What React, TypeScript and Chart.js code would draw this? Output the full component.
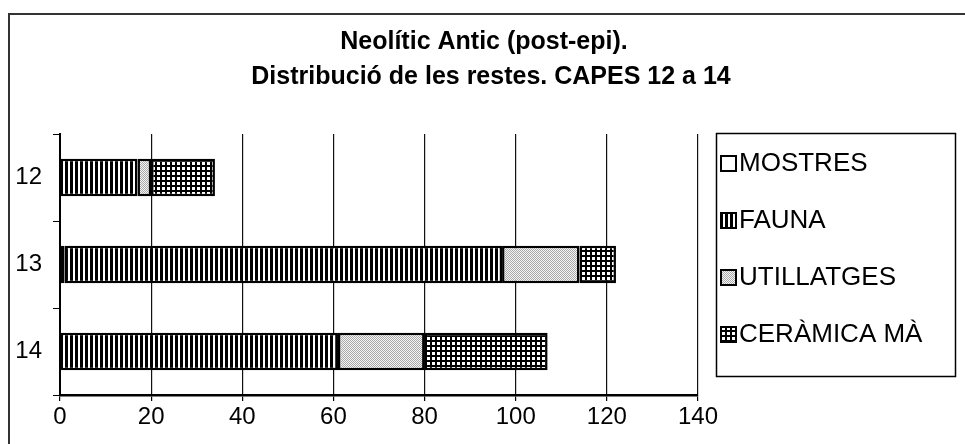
import React, { useEffect, useRef } from "react";
import { Chart, registerables } from "chart.js";

Chart.register(...registerables);

const categories = ["12", "13", "14"];
const seriesNames = ["MOSTRES", "FAUNA", "UTILLATGES", "CERÀMICA MÀ"];
const mostres = [0, 1, 0];
const fauna = [17, 96, 61];
const utillatges = [3, 17, 19];
const ceramica = [14, 8, 27];
const xTicks = [0, 20, 40, 60, 80, 100, 120, 140];
const titleLines = ["Neolític Antic (post-epi).", "Distribució de les restes. CAPES 12 a 14"];

function makeTile(w: number, h: number, draw: (c: CanvasRenderingContext2D) => void): CanvasPattern | string {
  const cv = document.createElement("canvas");
  cv.width = w;
  cv.height = h;
  const c = cv.getContext("2d");
  if (!c) return "#ccc";
  draw(c);
  const p = c.createPattern(cv, "repeat");
  return p || "#ccc";
}

export default function App() {
  const ref = useRef<HTMLCanvasElement | null>(null);

  useEffect(() => {
    document.body.style.margin = "0";
    const canvas = ref.current;
    if (!canvas) return;

    const faunaPat = makeTile(5, 5, (c) => {
      c.fillStyle = "#fff";
      c.fillRect(0, 0, 5, 5);
      c.fillStyle = "#000";
      c.fillRect(0, 0, 3, 5);
    });
    const utilPat = makeTile(2, 2, (c) => {
      c.fillStyle = "#f4f4f4";
      c.fillRect(0, 0, 2, 2);
      c.fillStyle = "#aaaaaa";
      c.fillRect(0, 0, 1, 1);
      c.fillRect(1, 1, 1, 1);
    });
    const ceramPat = makeTile(5, 5, (c) => {
      c.fillStyle = "#000";
      c.fillRect(0, 0, 5, 5);
      c.fillStyle = "#fff";
      c.fillRect(2, 2, 3, 3);
    });
    const fills: (string | CanvasPattern)[] = ["#ffffff", faunaPat, utilPat, ceramPat];
    const values = [mostres, fauna, utillatges, ceramica];

    const decor = {
      id: "decor",
      beforeDraw(chart: any) {
        const c = chart.ctx;
        c.save();
        c.fillStyle = "#fff";
        c.fillRect(0, 0, chart.width, chart.height);
        c.restore();
      },
      afterDraw(chart: any) {
        const c = chart.ctx;
        c.save();
        // frame
        c.strokeStyle = "#333";
        c.lineWidth = 2;
        c.beginPath();
        c.moveTo(9, 444);
        c.lineTo(9, 14);
        c.lineTo(965, 14);
        c.stroke();
        // title
        c.fillStyle = "#000";
        c.font = "bold 25px 'Liberation Sans', Arial, sans-serif";
        c.textAlign = "center";
        c.textBaseline = "middle";
        c.fillText(titleLines[0], 484, 42);
        c.fillText(titleLines[1], 491, 77);
        // legend
        c.lineWidth = 1.5;
        c.strokeStyle = "#000";
        c.strokeRect(716.5, 133.5, 239, 243);
        c.font = "26px 'Liberation Sans', Arial, sans-serif";
        c.textAlign = "left";
        const ys = [163, 220, 277, 334];
        chart.data.datasets.forEach((ds: any, i: number) => {
          const y = ys[i];
          c.fillStyle = ds.backgroundColor;
          c.fillRect(721, y - 7, 15, 15);
          c.lineWidth = 2;
          c.strokeStyle = "#000";
          c.strokeRect(721, y - 7, 15, 15);
          c.fillStyle = "#000";
          c.fillText(ds.label, 739, y + 1);
        });
        c.restore();
      },
    };

    const chart = new Chart(canvas, {
      type: "bar",
      data: {
        labels: categories,
        datasets: seriesNames.map((name, i) => ({
          label: name,
          data: values[i],
          backgroundColor: fills[i] as any,
          borderColor: "#000",
          borderWidth: 2.5,
          borderSkipped: false,
          categoryPercentage: 1,
          barPercentage: 0.43,
        })),
      },
      options: {
        indexAxis: "y",
        responsive: false,
        animation: false,
        layout: { padding: { left: 0, top: 134, right: 267, bottom: 0 } },
        plugins: {
          legend: { display: false },
          title: { display: false },
          tooltip: { enabled: false },
        },
        scales: {
          x: {
            stacked: true,
            min: 0,
            max: 140,
            afterBuildTicks(scale: any) {
              scale.ticks = xTicks.map((v) => ({ value: v }));
            },
            afterFit(scale: any) {
              scale.height = 49;
            },
            grid: {
              color: "#111",
              lineWidth: 1.2,
              drawTicks: true,
              tickLength: 6,
              tickColor: "#000",
            },
            border: { display: true, color: "#000", width: 2.5 },
            ticks: {
              color: "#000",
              padding: 2,
              font: { family: "'Liberation Sans', Arial, sans-serif", size: 24 },
            },
          },
          y: {
            stacked: true,
            afterFit(scale: any) {
              scale.width = 60;
            },
            grid: {
              display: true,
              drawOnChartArea: false,
              drawTicks: true,
              tickLength: 7,
              offset: true,
              tickColor: "#000",
            },
            border: { display: true, color: "#000", width: 2 },
            ticks: {
              color: "#000",
              padding: 11,
              font: { family: "'Liberation Sans', Arial, sans-serif", size: 24 },
            },
          },
        },
      },
      plugins: [decor],
    });

    return () => chart.destroy();
  }, []);

  return (
    <div style={{ width: 965, height: 444 }}>
      <canvas ref={ref} width={965} height={444} style={{ display: "block" }} />
    </div>
  );
}
